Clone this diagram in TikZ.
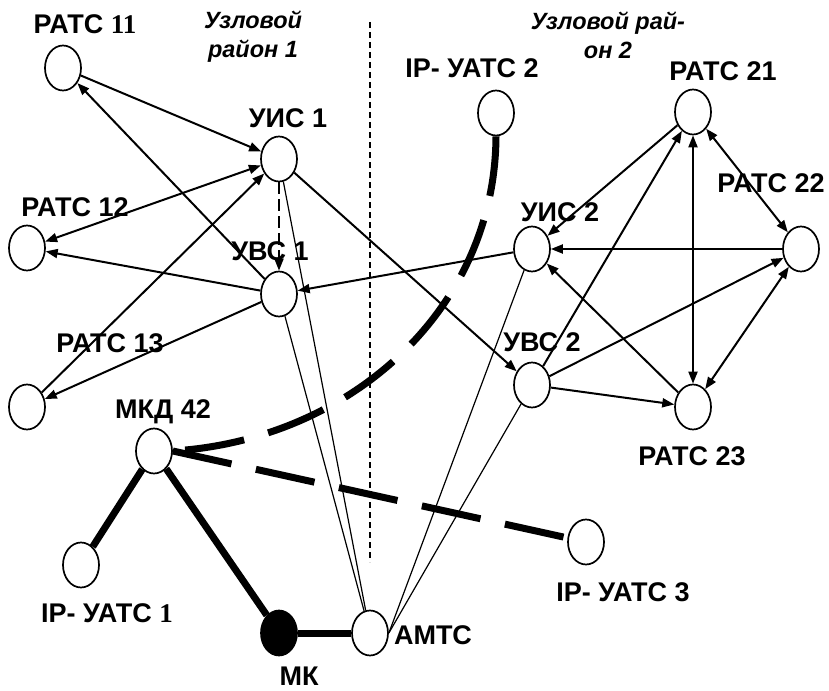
\documentclass[tikz,border=0pt]{standalone}
\usepackage{fontspec}
\setmainfont{Liberation Sans}
\newfontfamily\serifnum{Liberation Serif}
\usetikzlibrary{shapes.geometric, arrows.meta}

\begin{document}
\begin{tikzpicture}[
  x=1pt, y=-1pt,
  stn/.style={ellipse, draw, line width=1.7pt, minimum width=36pt,
    minimum height=45pt, inner sep=0pt},
  lbl/.style={font=\fontsize{27}{30}\selectfont\bfseries, inner sep=0pt,
    text height=19pt, text depth=0pt},
  zone/.style={font=\fontsize{23.5}{29}\selectfont\bfseries\itshape,
    align=center, inner sep=0pt},
  arr/.style={-{Triangle[length=12pt,width=9pt]}, line width=2pt},
  dbl/.style={{Triangle[length=12pt,width=9pt]}-{Triangle[length=12pt,width=9pt]},
    line width=2pt},
  trunk/.style={line width=1.2pt},
  heavy/.style={line width=7pt},
  ipdash/.style={line width=7pt, dash pattern=on 60pt off 25pt},
]
\useasboundingbox (0,0) rectangle (829,690);

%% ── Zone border ──────────────────────────────────────────────────────────────
\coordinate (ztop) at (370,22);
\coordinate (zbot) at (370,562);
\draw[line width=1.2pt, dash pattern=on 6pt off 4pt] (ztop) -- (zbot);

\node[zone] (Z1) at (253,37) {Узловой\\район 1};
\node[zone] (Z2) at (608,35) {Узловой рай-\\он 2};

%% ── Stations ─────────────────────────────────────────────────────────────────
\node[stn] (R11)  at (63,68)   {};
\node[stn] (UIS1) at (279,159) {};
\node[stn] (R12)  at (27,248)  {};
\node[stn] (UVS1) at (279,294) {};
\node[stn] (R13)  at (27,407)  {};
\node[stn] (MKD)  at (154,451) {};
\node[stn] (IP1)  at (81,565)  {};
\node[stn, fill=black] (MK) at (279,633) {};
\node[stn] (AMTS) at (370,633) {};
\node[stn] (IP2)  at (496,113) {};
\node[stn] (R21)  at (693,112) {};
\node[stn] (UIS2) at (532,249) {};
\node[stn] (R22)  at (801,249) {};
\node[stn] (UVS2) at (532,385) {};
\node[stn] (R23)  at (693,407) {};
\node[stn] (IP3)  at (586,542) {};

%% ── Labels ───────────────────────────────────────────────────────────────────
\node[lbl] (lR11)  at (85,24)   {РАТС {\serifnum 11}};
\node[lbl] (lUIS1) at (288,118) {УИС 1};
\node[lbl] (lR12)  at (75,207)  {РАТС 12};
\node[lbl] (lUVS1) at (270,251) {УВС 1};
\node[lbl] (lR13)  at (110,343) {РАТС 13};
\node[lbl] (lMKD)  at (163,409) {МКД 42};
\node[lbl] (lIP1)  at (107,613) {IP- УАТС {\serifnum 1}};
\node[lbl] (lMK)   at (299,676) {МК};
\node[lbl] (lAMTS) at (433,635) {АМТС};
\node[lbl] (lIP2)  at (472,68)  {IP- УАТС 2};
\node[lbl] (lR21)  at (723,71)  {РАТС 21};
\node[lbl] (lR22)  at (771,183) {РАТС 22};
\node[lbl] (lUIS2) at (560,212) {УИС 2};
\node[lbl] (lUVS2) at (542,342) {УВС 2};
\node[lbl] (lR23)  at (692,456) {РАТС 23};
\node[lbl] (lIP3)  at (623,592) {IP- УАТС 3};

%% ── Zone 1 links ─────────────────────────────────────────────────────────────
\draw[arr] (R11) -- (UIS1);
\draw[dbl] (R12) -- (UIS1);
\draw[arr] (R13) -- (UIS1);
\draw[arr] (UVS1) -- (R11);
\draw[arr] (UVS1) -- (R12);
\draw[arr] (UVS1) -- (R13);
\draw[arr, dash pattern=on 12pt off 5pt] (UIS1) -- (UVS1);
\draw[arr] (UIS1) -- (UVS2);
\draw[arr] (UIS2) -- (UVS1);

%% ── Zone 2 links ─────────────────────────────────────────────────────────────
\draw[arr] (R21) -- (UIS2);
\draw[arr] (R22) -- (UIS2);
\draw[arr] (R23) -- (UIS2);
\draw[dbl] (R21) -- (R22);
\draw[dbl] (R21) -- (R23);
\draw[dbl] (R22) -- (R23);
\draw[arr] (UVS2) -- (R21);
\draw[arr] (UVS2) -- (R22);
\draw[arr] (UVS2) -- (R23);

%% ── Toll exchange ────────────────────────────────────────────────────────────
\draw[trunk] (UIS1) -- (AMTS);
\draw[trunk] (UVS1) -- (AMTS);
\draw[trunk] (AMTS.east) -- (UIS2);
\draw[trunk] (AMTS.east) -- (UVS2);

%% ── IP network ───────────────────────────────────────────────────────────────
\draw[heavy] (MKD) -- (IP1);
\draw[heavy] (MKD) -- (MK);
\draw[heavy] (MK) -- (AMTS);
\draw[ipdash] (IP2.south) .. controls (495,310) and (350,440) .. (MKD.east);
\draw[ipdash] (MKD.east) -- (IP3);

\end{tikzpicture}
\end{document}
